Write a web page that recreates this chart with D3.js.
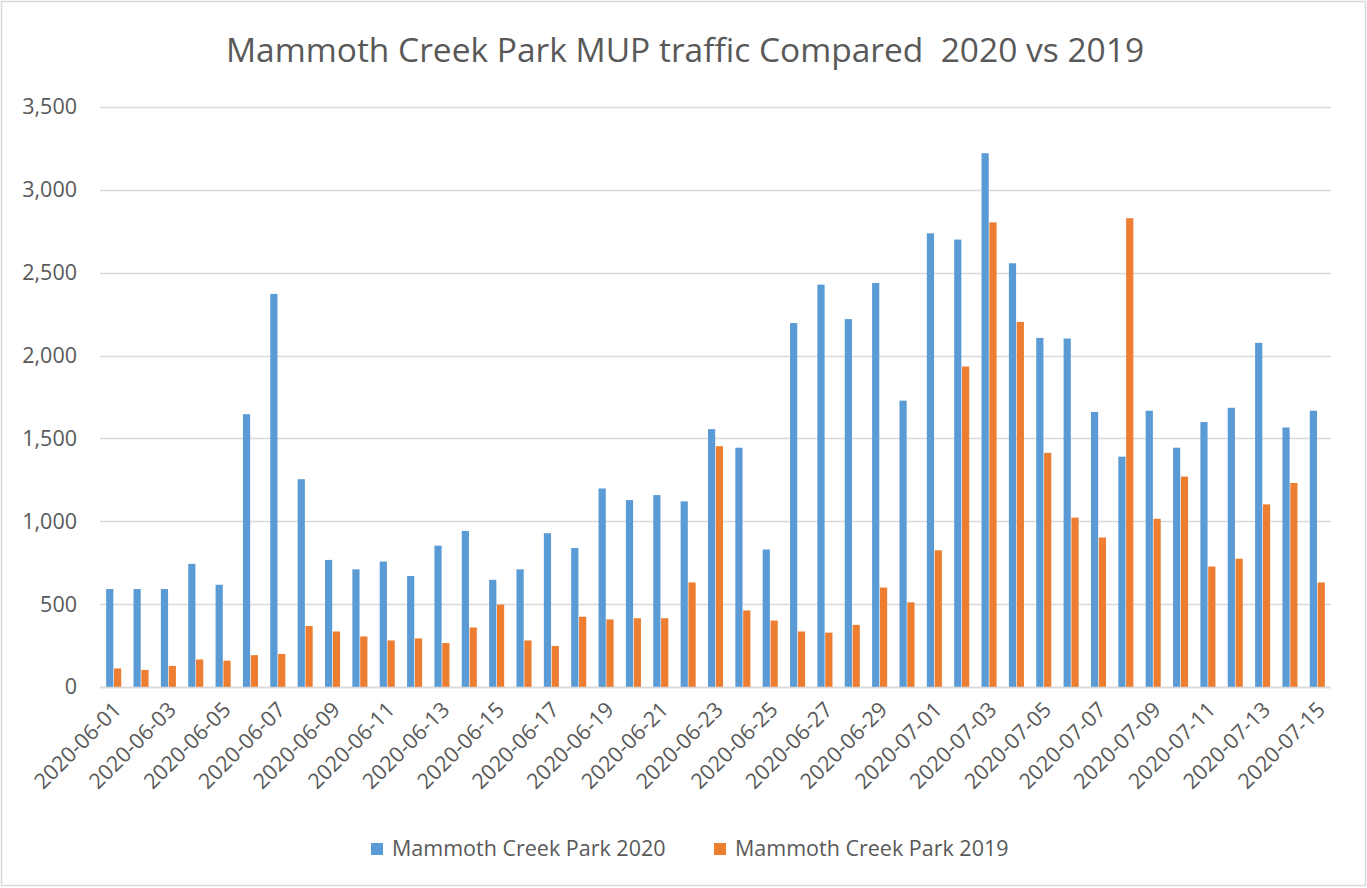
<!DOCTYPE html>
<html>
<head>
<meta charset="utf-8">
<script src="https://cdn.jsdelivr.net/npm/d3@7"></script>
<style>
  html, body { margin: 0; padding: 0; background: #fff; }
  text { font-family: "Open Sans", "Noto Sans", sans-serif; fill: #595959; }
</style>
</head>
<body>
<svg id="chart" width="1367" height="888"></svg>
<script>
// ---- data ----
const dates = [
  "2020-06-01","2020-06-02","2020-06-03","2020-06-04","2020-06-05","2020-06-06","2020-06-07","2020-06-08","2020-06-09","2020-06-10",
  "2020-06-11","2020-06-12","2020-06-13","2020-06-14","2020-06-15","2020-06-16","2020-06-17","2020-06-18","2020-06-19","2020-06-20",
  "2020-06-21","2020-06-22","2020-06-23","2020-06-24","2020-06-25","2020-06-26","2020-06-27","2020-06-28","2020-06-29","2020-06-30",
  "2020-07-01","2020-07-02","2020-07-03","2020-07-04","2020-07-05","2020-07-06","2020-07-07","2020-07-08","2020-07-09","2020-07-10",
  "2020-07-11","2020-07-12","2020-07-13","2020-07-14","2020-07-15"
];
const seriesNames = ["Mammoth Creek Park 2020", "Mammoth Creek Park 2019"];
const values2020 = [
  591, 591, 591, 743, 617, 1646, 2372, 1254, 767, 710,
  757, 670, 853, 942, 647, 710, 928, 839, 1198, 1128,
  1158, 1120, 1556, 1444, 830, 2196, 2428, 2220, 2438, 1728,
  2738, 2700, 3221, 2557, 2107, 2103, 1660, 1390, 1667, 1444,
  1599, 1685, 2077, 1566, 1667
];
const values2019 = [
  112, 103, 127, 166, 159, 192, 199, 368, 335, 305,
  281, 293, 265, 359, 497, 281, 248, 424, 408, 415,
  415, 631, 1453, 462, 401, 335, 328, 375, 600, 511,
  825, 1934, 2804, 2203, 1413, 1022, 902, 2829, 1015, 1270,
  727, 774, 1102, 1231, 631
];
const yTicks = [0, 500, 1000, 1500, 2000, 2500, 3000, 3500];
const titleText = "Mammoth Creek Park MUP traffic Compared  2020 vs 2019";
const colors = ["#5B9BD5", "#ED7D31"];

// ---- layout ----
const W = 1367, H = 888;
const plot = { left: 100, right: 1331, top: 107, bottom: 687 };

const svg = d3.select("#chart");

// outer border
svg.append("rect")
  .attr("x", 1.5).attr("y", 1.5).attr("width", W - 3).attr("height", H - 4)
  .attr("fill", "#fff").attr("stroke", "#d9d9d9").attr("stroke-width", 1.5);

const y = d3.scaleLinear().domain([0, 3500]).range([plot.bottom, plot.top]);
const x0 = d3.scaleBand().domain(dates).range([plot.left, plot.right])
  .paddingInner(0.45).paddingOuter(0.225);
const x1 = d3.scaleBand().domain(seriesNames).range([0, x0.bandwidth()]).paddingInner(0.08);

// gridlines
svg.append("g").selectAll("line").data(yTicks).join("line")
  .attr("x1", plot.left).attr("x2", plot.right)
  .attr("y1", d => Math.round(y(d)) + 0.5).attr("y2", d => Math.round(y(d)) + 0.5)
  .attr("stroke", "#d9d9d9").attr("stroke-width", 1.5);

// y labels
const yAxis = d3.axisLeft(y).tickValues(yTicks).tickSize(0).tickPadding(0)
  .tickFormat(d3.format(","));
const gy = svg.append("g").attr("transform", `translate(${plot.left - 23},0)`).call(yAxis);
gy.select(".domain").remove();
gy.selectAll("text").attr("font-size", "21.5px").attr("fill", "#595959")
  .attr("font-family", '"Open Sans", sans-serif');

// bars
const rows = dates.map((d, i) => ({ date: d, vals: [values2020[i], values2019[i]] }));
const groups = svg.append("g").selectAll("g").data(rows).join("g")
  .attr("transform", d => `translate(${x0(d.date)},0)`);
groups.selectAll("rect").data(d => d.vals.map((v, k) => ({ k, v }))).join("rect")
  .attr("x", d => x1(seriesNames[d.k]))
  .attr("width", x1.bandwidth())
  .attr("y", d => y(d.v))
  .attr("height", d => y(0) - y(d.v))
  .attr("fill", d => colors[d.k]);

// x axis baseline
svg.append("line")
  .attr("x1", plot.left).attr("x2", plot.right)
  .attr("y1", plot.bottom + 0.5).attr("y2", plot.bottom + 0.5)
  .attr("stroke", "#d9d9d9").attr("stroke-width", 1.5);

// x labels (every other date)
const xAxis = d3.axisBottom(x0).tickSize(0).tickPadding(0)
  .tickValues(dates.filter((d, i) => i % 2 === 0));
const gx = svg.append("g").attr("transform", `translate(0,${plot.bottom})`).call(xAxis);
gx.select(".domain").remove();
gx.selectAll("text")
  .attr("font-size", "21.5px").attr("fill", "#595959")
  .attr("font-family", '"Open Sans", sans-serif')
  .attr("text-anchor", "end")
  .attr("y", 0).attr("dy", 0)
  .attr("transform", "translate(9,24) rotate(-45)");

// title
svg.append("text")
  .attr("x", 685).attr("y", 62)
  .attr("text-anchor", "middle")
  .attr("font-size", "33.5px")
  .style("white-space", "pre")
  .text(titleText);

// legend
const legendX = [371, 714];
const leg = svg.append("g").selectAll("g").data(seriesNames).join("g")
  .attr("transform", (d, i) => `translate(${legendX[i]},843)`);
leg.append("rect").attr("width", 12).attr("height", 12).attr("fill", (d, i) => colors[i]);
leg.append("text").attr("x", 21).attr("y", 12.5)
  .attr("font-size", "21.5px").text(d => d);
</script>
</body>
</html>
